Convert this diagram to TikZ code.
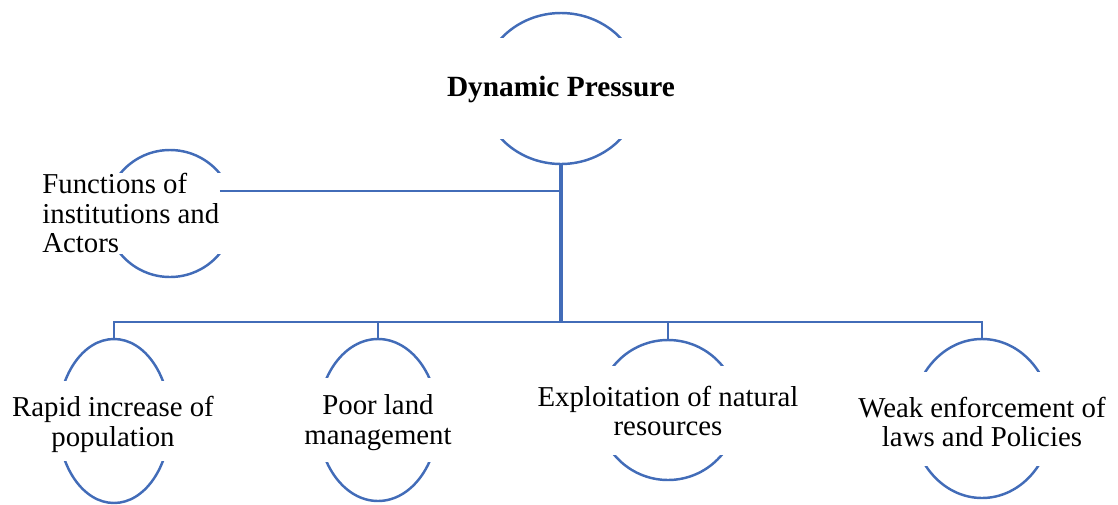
\documentclass[tikz,border=0pt]{standalone}
\usepackage{fontspec}
\setmainfont{Liberation Serif}
\usetikzlibrary{shapes.geometric}
\definecolor{linkblue}{RGB}{66,108,184}

\begin{document}
\begin{tikzpicture}[x=0.02cm, y=-0.02cm,
  bub/.style 2 args={ellipse, draw=linkblue, line width=1.4pt, inner sep=0pt,
    minimum width=#1*0.02cm, minimum height=#2*0.02cm},
  mask/.style 2 args={rectangle, fill=white, inner sep=0pt,
    minimum width=#1*0.02cm, minimum height=#2*0.02cm},
  lbl/.style={font=\fontsize{16.4}{17}\selectfont, align=center, inner sep=0pt},
  link/.style={draw=linkblue, line width=1.5pt},
  trunk/.style={draw=linkblue, line width=2.2pt}]
  \useasboundingbox (0,0) rectangle (1118,504);

  % outlines
  \node[bub={160}{151}] (dp) at (561,88.5) {};
  \node[bub={128}{127}] (fa) at (170,213.5) {};
  \node[bub={112}{164}] (b1) at (114,421) {};
  \node[bub={120}{162}] (b2) at (378,420) {};
  \node[bub={140}{140}] (b3) at (668,410) {};
  \node[bub={140}{159}] (b4) at (982,418.5) {};

  % white bands hide the sides
  \node[mask={168}{101}] (dp-box) at (dp) {};
  \node[mask={136}{81}] (fa-box) at (fa) {};
  \node[mask={120}{80}] (b1-box) at (b1) {};
  \node[mask={128}{84}] (b2-box) at (b2) {};
  \node[mask={148}{89}] (b3-box) at (b3) {};
  \node[mask={148}{94}] (b4-box) at (b4) {};

  % labels
  \node[lbl, font=\fontsize{16.7}{17}\selectfont\bfseries] (dp-txt) at (561,89) {Dynamic Pressure};
  \node[lbl, align=left, anchor=west] (fa-txt) at (42,213) {Functions of\\institutions and\\Actors};
  \node[lbl] (b1-txt) at (113,424) {Rapid increase of\\population};
  \node[lbl] (b2-txt) at (378,423) {Poor land\\management};
  \node[lbl] (b3-txt) at (668,411) {Exploitation of natural\\resources};
  \node[lbl] (b4-txt) at (982,422) {Weak enforcement of\\laws and Policies};

  % connectors
  \coordinate (join) at (561,191);
  \coordinate (bus) at (561,322);
  \draw[trunk] (dp.south) -- (bus);
  \draw[link] (fa.40 |- join) -- (join);
  \draw[link] (b1.north) -- (b1.north |- bus) -- (b4.north |- bus) -- (b4.north);
  \draw[link] (b2.north) -- (b2.north |- bus);
  \draw[link] (b3.north) -- (b3.north |- bus);
\end{tikzpicture}
\end{document}
